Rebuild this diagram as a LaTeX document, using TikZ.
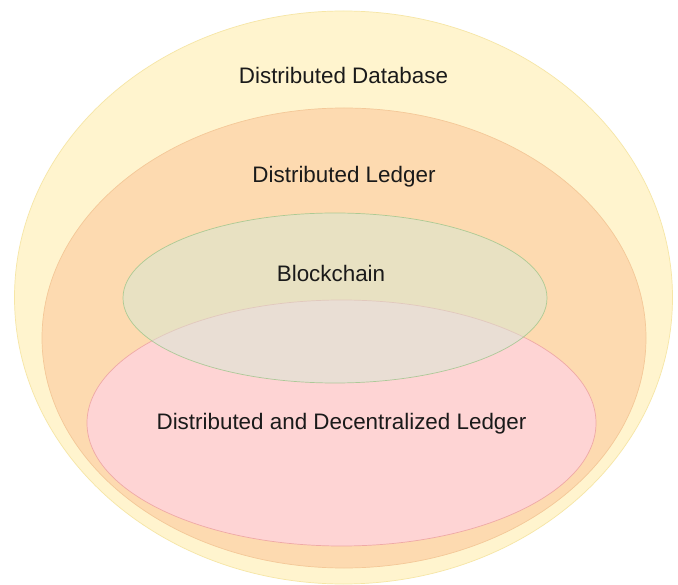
\documentclass[tikz,border=0pt]{standalone}
\usepackage{fontspec}
\setmainfont{Liberation Sans}
\usetikzlibrary{shapes.geometric}
\definecolor{dbfill}{HTML}{FFF4CE}
\definecolor{dbline}{HTML}{F6E6A6}
\definecolor{dlfill}{HTML}{FDDAB0}
\definecolor{dlline}{HTML}{F4C898}
\definecolor{ddfill}{HTML}{FED4D4}
\definecolor{ddline}{HTML}{EFA9A6}
\definecolor{bcfill}{HTML}{D5E8D4}
\definecolor{bcline}{HTML}{9CC58A}
\definecolor{txt}{HTML}{1A1A1A}
\tikzset{
  area/.style={ellipse, inner sep=0pt, outer sep=0pt, line width=0.7pt},
  lbl/.style={font=\fontsize{22.4}{27}\selectfont, text=txt, inner sep=0pt, anchor=center}
}
\begin{document}
\begin{tikzpicture}[x=1pt, y=-1pt]
\useasboundingbox (0,0) rectangle (678,585);
\fill[white] (0,0) rectangle (678,585);
\begin{scope}
\clip (0,0) rectangle (678,585);
\node[area, draw=dbline, fill=dbfill, minimum width=658pt, minimum height=573pt] (db) at (343.5,297.5) {};
\node[area, draw=dlline, fill=dlfill, minimum width=604pt, minimum height=460pt] (dl) at (344,338) {};
\node[area, draw=ddline, fill=ddfill, minimum width=509pt, minimum height=246pt] (dd) at (341.5,423) {};
\node[area, draw=bcline, draw opacity=0.8, fill=bcfill, fill opacity=0.5, minimum width=424pt, minimum height=170pt] (bc) at (335,298) {};
\end{scope}
\node[lbl] (tdb) at (343.5,75) {Distributed Database};
\node[lbl] (tdl) at (344,177) {Distributed Ledger};
\node[lbl] (tbc) at (331,273) {Blockchain};
\node[lbl] (tdd) at (341.5,424) {Distributed and Decentralized Ledger};
\end{tikzpicture}
\end{document}
